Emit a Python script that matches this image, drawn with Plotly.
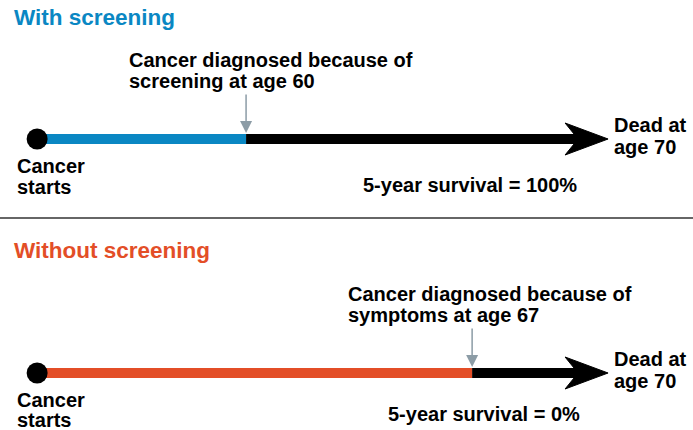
import plotly.graph_objects as go

# ---- data (schematic timeline positions, in years of age) ----
timeline_start = 53.53          # where "Cancer starts" dot sits on the schematic
diagnosis_age = [60, 67]        # with screening, without screening
death_age_label = 70
arrow_end = 71.21               # schematic tip of the arrow
scenario_titles = ["With screening", "Without screening"]
diagnosis_lines = [["Cancer diagnosed because of", "screening at age 60"],
                   ["Cancer diagnosed because of", "symptoms at age 67"]]
survival_text = ["5-year survival = 100%", "5-year survival = 0%"]

# ---- styling / layout ----
W, H = 693, 430
X0, X1 = 52.38, 73.84
pxyr = W / (X1 - X0)
colors = ["#0a87c3", "#e34e27"]
row_y = [139, 373]
FONT = "Liberation Sans"
FS = 20
def px(xv):
    return (xv - X0) * pxyr

fig = go.Figure()
annotations = []
for i in range(2):
    y = row_y[i]
    d = diagnosis_age[i]
    head_len = 43 / pxyr
    notch = 30 / pxyr
    fig.add_trace(go.Scatter(x=[timeline_start, d], y=[y, y], mode="lines",
                             line=dict(color=colors[i], width=10), hoverinfo="skip"))
    fig.add_trace(go.Scatter(x=[d, arrow_end - notch], y=[y, y], mode="lines",
                             line=dict(color="black", width=10), hoverinfo="skip"))
    fig.add_trace(go.Scatter(
        x=[arrow_end, arrow_end - head_len, arrow_end - notch, arrow_end - head_len, arrow_end],
        y=[y, y - 16, y, y + 16, y], mode="lines", fill="toself", fillcolor="black",
        line=dict(color="black", width=1), hoverinfo="skip"))
    fig.add_trace(go.Scatter(x=[timeline_start], y=[y], mode="markers",
                             marker=dict(color="black", size=21), hoverinfo="skip"))
    annotations.append(dict(x=d, y=y - 6, xref="x", yref="y", text="", showarrow=True,
                            ax=0, ay=-40, arrowcolor="#8c9ca6", arrowwidth=1.5,
                            arrowhead=2, arrowsize=1.6))

def txt(x, y, s, size=FS, color="black"):
    annotations.append(dict(x=x / W, y=1 - y / H, xref="paper", yref="paper",
                            text="<b>%s</b>" % s, showarrow=False,
                            xanchor="left", yanchor="middle", align="left",
                            font=dict(family=FONT, size=size, color=color)))

# vertical offsets of texts relative to each timeline row
title_dy = [-122, -123]
diag_dy = [(-79, -58), (-79, -58)]
starts_dy = [(27, 48), (27, 47)]
dead_dy = (-14, 8)
surv_dy = [46, 41]
surv_x = [361, 386]
diag_x_off = [-119, -126]

for i in range(2):
    y = row_y[i]
    txt(12, y + title_dy[i], scenario_titles[i], size=22.5, color=colors[i])
    dx = px(diagnosis_age[i]) + diag_x_off[i]
    for line, dy in zip(diagnosis_lines[i], diag_dy[i]):
        txt(dx, y + dy, line)
    txt(15, y + starts_dy[i][0], "Cancer")
    txt(15, y + starts_dy[i][1], "starts")
    txt(px(arrow_end) + 4, y + dead_dy[0], "Dead at")
    txt(px(arrow_end) + 4, y + dead_dy[1], "age %d" % death_age_label)
    txt(surv_x[i], y + surv_dy[i], survival_text[i])

fig.add_shape(type="line", xref="paper", yref="y", x0=0, x1=1, y0=218, y1=218,
              line=dict(color="#333333", width=1.5))

fig.update_layout(width=W, height=H, margin=dict(l=0, r=0, t=0, b=0),
                  paper_bgcolor="white", plot_bgcolor="white", showlegend=False,
                  annotations=annotations,
                  xaxis=dict(range=[X0, X1], visible=False, fixedrange=True),
                  yaxis=dict(range=[H, 0], visible=False, fixedrange=True))
fig.write_html("out.html", config={"displayModeBar": False},
               post_script="document.body.style.margin='0';document.body.style.overflow='hidden';")
